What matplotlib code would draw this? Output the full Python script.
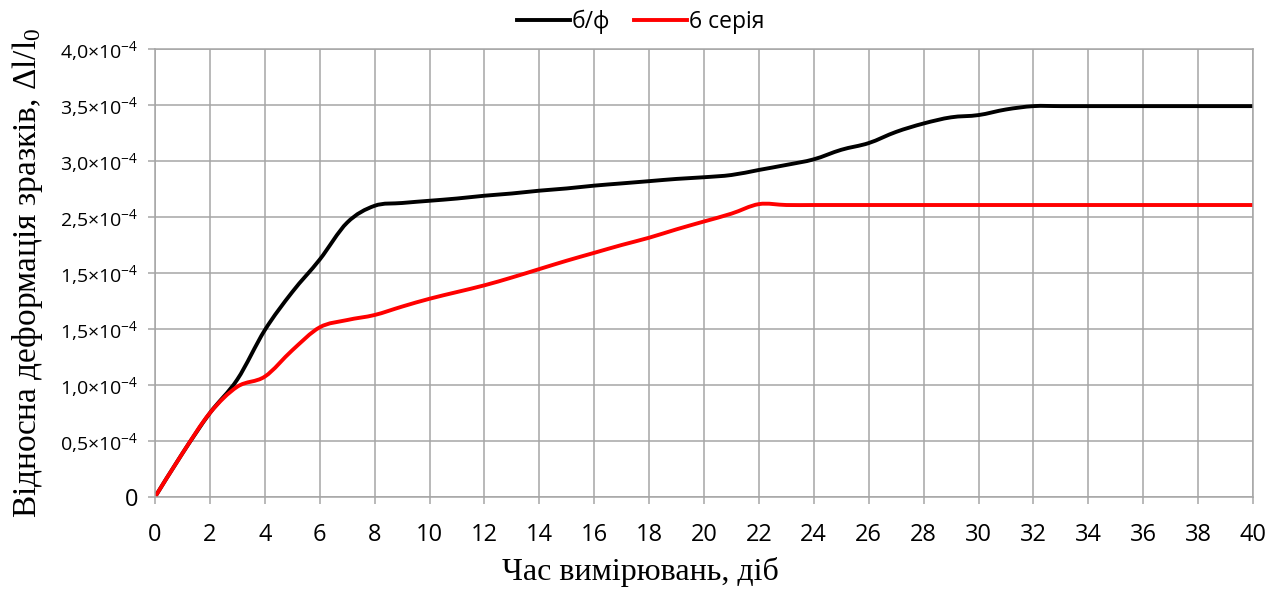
import numpy as np
import matplotlib
matplotlib.use('Agg')
import matplotlib.pyplot as plt
from matplotlib.path import Path
from matplotlib.patches import PathPatch
from matplotlib.lines import Line2D

# Час вимірювань, діб
dni = list(range(0, 41))

# Відносна деформація (у одиницях осі, 1 поділка = 0,5)
bf = [0.0, 0.39, 0.75, 1.05, 1.49, 1.83, 2.12, 2.45, 2.60, 2.625,
      2.645, 2.665, 2.69, 2.71, 2.735, 2.755, 2.78, 2.80, 2.82, 2.84,
      2.855, 2.875, 2.92, 2.965, 3.015, 3.10, 3.16, 3.26, 3.335, 3.39,
      3.41, 3.46, 3.49, 3.49, 3.49, 3.49, 3.49, 3.49, 3.49, 3.49, 3.49]
seria6 = [0.0, 0.39, 0.75, 0.985, 1.075, 1.31, 1.515, 1.58, 1.625, 1.70,
          1.77, 1.83, 1.89, 1.96, 2.035, 2.11, 2.18, 2.25, 2.315, 2.39,
          2.46, 2.53, 2.615, 2.607, 2.607, 2.607, 2.607, 2.607, 2.607, 2.607,
          2.607, 2.607, 2.607, 2.607, 2.607, 2.607, 2.607, 2.607, 2.607, 2.607, 2.607]

y_ticks = [0, 0.5, 1.0, 1.5, 2.0, 2.5, 3.0, 3.5, 4.0]
y_labels = ['0', '0,5×10^{-4}', '1,0×10^{-4}', '1,5×10^{-4}', '1,5×10^{-4}',
            '2,5×10^{-4}', '3,0×10^{-4}', '3,5×10^{-4}', '4,0×10^{-4}']
x_ticks = list(range(0, 41, 2))


def gladka(x, y):
    # згладжена крива через точки (сплайн Кетмела-Рома у вигляді кривих Безье)
    p = np.column_stack([x, y]).astype(float)
    pe = np.vstack([p[0], p, p[-1]])
    verts = [p[0]]
    codes = [Path.MOVETO]
    for i in range(len(p) - 1):
        a, b, c, d = pe[i], pe[i + 1], pe[i + 2], pe[i + 3]
        verts += [b + (c - a) / 6, c - (d - b) / 6, c]
        codes += [Path.CURVE4] * 3
    return Path(verts, codes)


plt.rcParams['font.family'] = ['Open Sans', 'DejaVu Sans']

fig = plt.figure(figsize=(12.74, 5.89), dpi=100)
ax = fig.add_axes([155 / 1274, 1 - 497 / 589, 1098 / 1274, 448 / 589])

serii = [(bf, '#000000', 'б/ф'), (seria6, '#ff0000', '6 серія')]
uchwyty = []
for dane, kolir, nazva in serii:
    ax.add_patch(PathPatch(gladka(dni, dane), fill=False, edgecolor=kolir, lw=2.8,
                           capstyle='round', joinstyle='round'))
    uchwyty.append(Line2D([], [], color=kolir, lw=2.8, label=nazva))

ax.set_xlim(0, 40)
ax.set_ylim(0, 4.0)
ax.set_xticks(x_ticks)
ax.set_yticks(y_ticks)
ax.set_yticklabels([l if l == '0' else r'$\mathregular{' + l.replace(',', '{,}') + '}$'
                    for l in y_labels])
ax.grid(True, color='#a6a6a6', lw=1.1)
ax.set_axisbelow(True)
for s in ax.spines.values():
    s.set_color('#a6a6a6')
    s.set_linewidth(1.1)
ax.tick_params(axis='both', colors='#a6a6a6', labelcolor='black',
               length=5, width=1.1)
ax.tick_params(axis='x', pad=14, labelsize=17)
ax.tick_params(axis='y', pad=7, labelsize=14)
ax.get_yticklabels()[0].set_fontsize(17)

ax.set_xlabel('Час вимірювань, діб', family='Liberation Serif', fontsize=23,
              va='baseline')
ax.xaxis.set_label_coords(0.442, -0.185)
ax.set_ylabel(r'Відносна деформація зразків, Δl/l$\mathregular{_0}$',
              family='Liberation Serif', fontsize=24)
ax.yaxis.set_label_coords(-0.1, 0.5)

fig.legend(handles=uchwyty, loc='center', bbox_to_anchor=(0.503, 1 - 22 / 589), ncol=2,
           frameon=False, fontsize=16.5, handlelength=2.3, handletextpad=0.1,
           columnspacing=1.05)

plt.savefig('out.png', dpi=100)
